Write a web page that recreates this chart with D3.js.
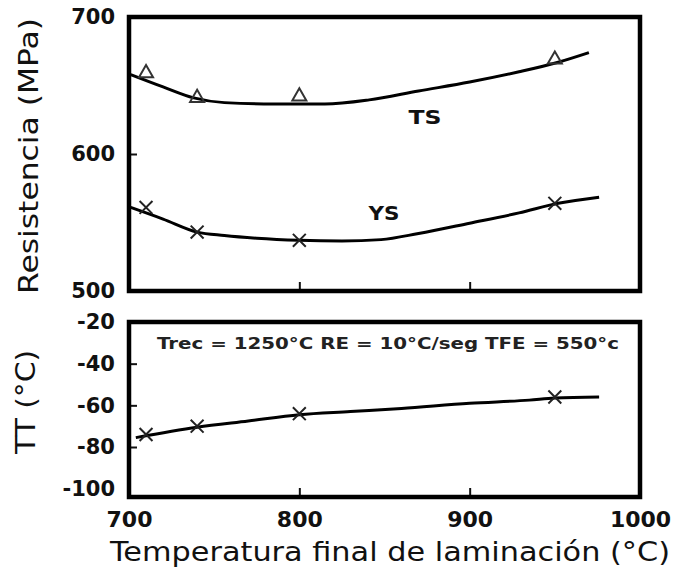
<!DOCTYPE html>
<html>
<head>
<meta charset="utf-8">
<script src="https://cdn.jsdelivr.net/npm/d3@7"></script>
<style>
  html, body { margin: 0; padding: 0; background: #fff; }
  svg { display: block; font-family: "DejaVu Sans", Verdana, sans-serif; }
</style>
</head>
<body>
<svg id="chart" width="678" height="568"></svg>
<script>
// Measured test temperatures (final rolling temperature, °C)
const temps = [710, 740, 800, 950];
// Tensile strength (TS) and yield strength (YS), MPa
const tsPoints = [659, 641, 642, 669];
const ysPoints = [561, 543, 537, 564];
// Transition temperature TT, °C
const ttPoints = [-74, -70, -64, -56];

// Fitted trend curves
const tsFitTemp = [701, 720, 738, 756, 785, 815, 841, 870, 900, 929, 952, 970];
const tsFitVal  = [658, 649, 641, 637.5, 636.5, 636.5, 639.5, 646, 652.5, 660, 667, 674];
const ysFitTemp = [701, 720, 740, 756, 775, 800, 825, 848, 870, 900, 929, 952, 976];
const ysFitVal  = [561, 552.5, 543, 540.5, 538.5, 537, 536.5, 537.5, 542, 549.5, 557, 564, 568.5];
const ttFitTemp = [704, 740, 770, 800, 830, 860, 900, 935, 950, 976];
const ttFitVal  = [-75.5, -70.5, -67.5, -64.5, -63, -61.5, -59, -57.5, -56.5, -56];

// Tick labels
const xTicks = [700, 800, 900, 1000];
const strengthTicks = [500, 600, 700];
const ttTicks = [-100, -80, -60, -40, -20];

const svg = d3.select("#chart");

const x = d3.scaleLinear().domain([700, 1000]).range([129, 640]);
const yTop = d3.scaleLinear().domain([500, 700]).range([291, 17]);
const yBot = d3.scaleLinear().domain([-104, -20]).range([497, 322]);

const zip = (a, b) => a.map((d, i) => [d, b[i]]);

function drawPanel(yScale, ticks, yTopPx, yBotPx, yTickInner, showXLabels) {
  const g = svg.append("g");

  // left axis: inward ticks, labels outside
  const ya = g.append("g")
    .attr("transform", `translate(${x(700)},0)`)
    .call(d3.axisLeft(yScale).tickValues(ticks).tickSize(-8).tickPadding(14)
      .tickFormat(d => String(d)));
  ya.select(".domain").remove();
  ya.selectAll(".tick line").attr("stroke", "#111").attr("stroke-width", 2)
    .attr("display", d => yTickInner.includes(d) ? null : "none");
  ya.selectAll(".tick text")
    .attr("font-size", 21).attr("font-weight", "bold").attr("fill", "#111")
    .attr("font-family", "DejaVu Sans");

  // bottom axis: inward ticks at 800 and 900
  const xa = g.append("g")
    .attr("transform", `translate(0,${yBotPx})`)
    .call(d3.axisBottom(x).tickValues(xTicks).tickSize(-9).tickPadding(14)
      .tickFormat(showXLabels ? d3.format("d") : () => ""));
  xa.select(".domain").remove();
  xa.selectAll(".tick line").attr("stroke", "#111").attr("stroke-width", 2)
    .attr("display", d => (d === 800 || d === 900) ? null : "none");
  xa.selectAll(".tick text")
    .attr("font-size", 22).attr("font-weight", "bold").attr("fill", "#111")
    .attr("font-family", "DejaVu Sans");

  // frame
  g.append("rect")
    .attr("x", x(700)).attr("y", yTopPx)
    .attr("width", x(1000) - x(700)).attr("height", yBotPx - yTopPx)
    .attr("fill", "none").attr("stroke", "#000").attr("stroke-width", 4.5);
  return g;
}

drawPanel(yTop, strengthTicks, yTop(700), yTop(500), [600], false);
drawPanel(yBot, ttTicks, yBot(-20), yBot(-104), [-40, -60, -80], true);

const lineTop = d3.line().x(d => x(d[0])).y(d => yTop(d[1])).curve(d3.curveMonotoneX);
const lineBot = d3.line().x(d => x(d[0])).y(d => yBot(d[1])).curve(d3.curveMonotoneX);

svg.append("path").attr("d", lineTop(zip(tsFitTemp, tsFitVal)))
  .attr("fill", "none").attr("stroke", "#000").attr("stroke-width", 3);
svg.append("path").attr("d", lineTop(zip(ysFitTemp, ysFitVal)))
  .attr("fill", "none").attr("stroke", "#000").attr("stroke-width", 3);
svg.append("path").attr("d", lineBot(zip(ttFitTemp, ttFitVal)))
  .attr("fill", "none").attr("stroke", "#000").attr("stroke-width", 3);

const tri = d3.symbol().type(d3.symbolTriangle).size(85);
const cross = d3.symbol().type(d3.symbolTimes).size(110);

svg.append("g").selectAll("path").data(zip(temps, tsPoints)).join("path")
  .attr("d", tri).attr("transform", d => `translate(${x(d[0])},${yTop(d[1])})`)
  .attr("fill", "none").attr("stroke", "#333").attr("stroke-width", 2);
svg.append("g").selectAll("path").data(zip(temps, ysPoints)).join("path")
  .attr("d", cross).attr("transform", d => `translate(${x(d[0])},${yTop(d[1])})`)
  .attr("fill", "none").attr("stroke", "#222").attr("stroke-width", 2);
svg.append("g").selectAll("path").data(zip(temps, ttPoints)).join("path")
  .attr("d", cross).attr("transform", d => `translate(${x(d[0])},${yBot(d[1])})`)
  .attr("fill", "none").attr("stroke", "#222").attr("stroke-width", 2);

// curve labels
svg.append("text").attr("x", 425).attr("y", 124).attr("text-anchor", "middle")
  .attr("font-size", 19).attr("font-weight", "bold").attr("fill", "#111")
  .attr("textLength", 33).attr("lengthAdjust", "spacingAndGlyphs").text("TS");
svg.append("text").attr("x", 384).attr("y", 220).attr("text-anchor", "middle")
  .attr("font-size", 19).attr("font-weight", "bold").attr("fill", "#111")
  .attr("textLength", 31).attr("lengthAdjust", "spacingAndGlyphs").text("YS");

// processing conditions
svg.append("text").attr("x", 388).attr("y", 349).attr("text-anchor", "middle")
  .attr("font-size", 16).attr("font-weight", 600).attr("fill", "#222")
  .attr("textLength", 462).attr("lengthAdjust", "spacingAndGlyphs")
  .text("Trec = 1250°C RE = 10°C/seg TFE = 550°c");

// axis titles
svg.append("text").attr("transform", "translate(38,156) rotate(-90)")
  .attr("text-anchor", "middle").attr("font-size", 27).attr("fill", "#111")
  .attr("textLength", 276).attr("lengthAdjust", "spacingAndGlyphs")
  .text("Resistencia (MPa)");
svg.append("text").attr("transform", "translate(35,402) rotate(-90)")
  .attr("text-anchor", "middle").attr("font-size", 27).attr("fill", "#111")
  .attr("textLength", 104).attr("lengthAdjust", "spacingAndGlyphs")
  .text("TT (°C)");
svg.append("text").attr("x", 390).attr("y", 561).attr("text-anchor", "middle")
  .attr("font-size", 26).attr("fill", "#111")
  .attr("textLength", 560).attr("lengthAdjust", "spacingAndGlyphs")
  .text("Temperatura final de laminación (°C)");
</script>
</body>
</html>
